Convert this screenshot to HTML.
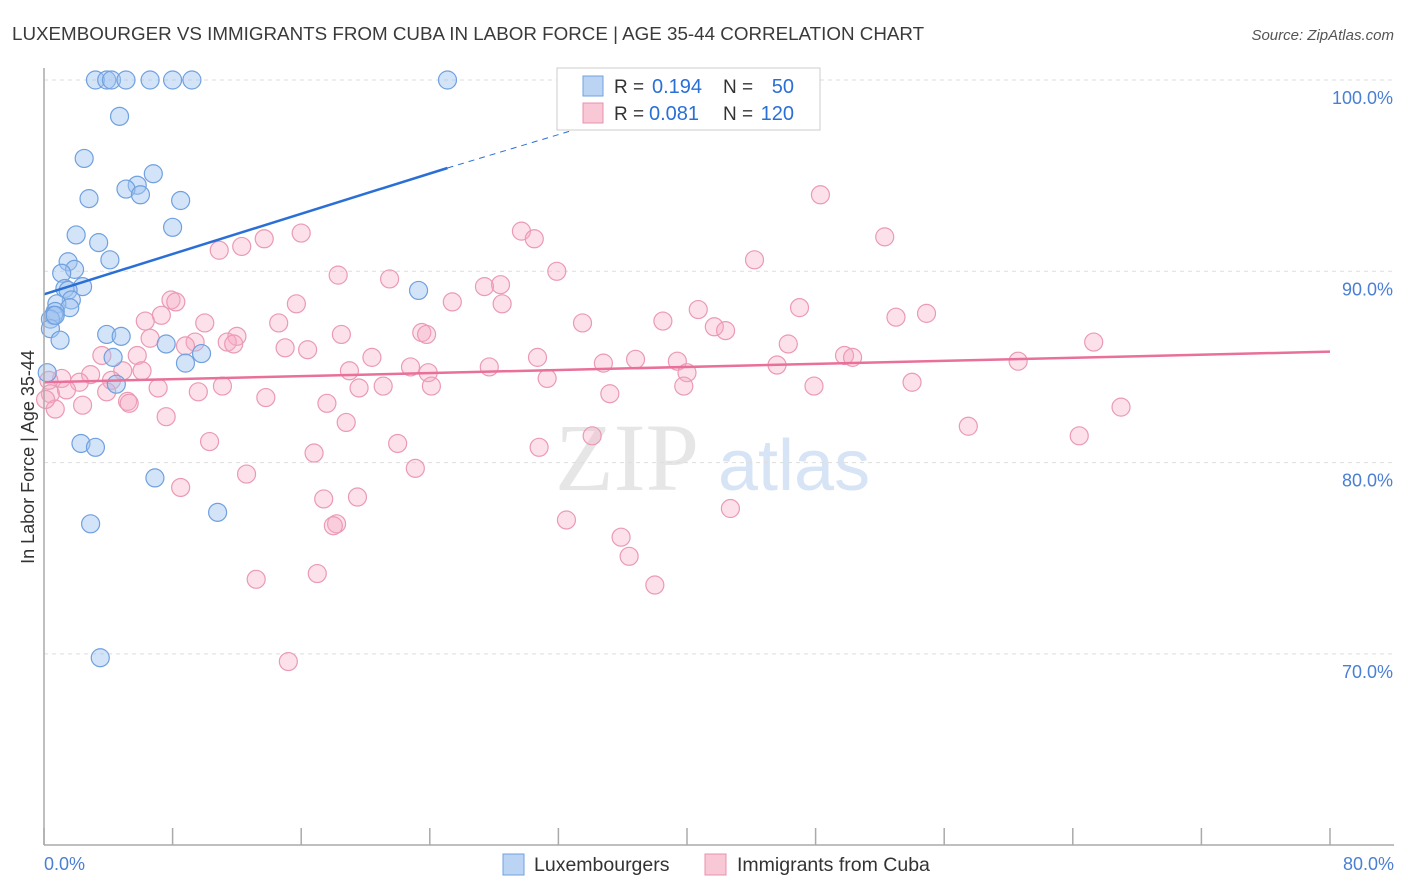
<!DOCTYPE html>
<html><head><meta charset="utf-8"><style>
body{margin:0;background:#fff;font-family:"Liberation Sans",sans-serif}
svg{display:block}
</style></head><body>
<svg id="c" width="1406" height="892">
<text x="12" y="40" font-size="18.8" fill="#3a3a3a">LUXEMBOURGER VS IMMIGRANTS FROM CUBA IN LABOR FORCE | AGE 35-44 CORRELATION CHART</text>
<text x="1394" y="40" font-size="15" fill="#555" font-style="italic" text-anchor="end">Source: ZipAtlas.com</text>
<text x="555" y="490" font-size="96" fill="#e6e6e6" font-family="Liberation Serif,serif">ZIP</text>
<text x="718" y="490" font-size="72" fill="#d6e4f5">atlas</text>
<text transform="translate(34,457) rotate(-90)" font-size="18" fill="#333" text-anchor="middle">In Labor Force | Age 35-44</text>
<g id="grid"></g><g id="pts"></g><g id="lines"></g>
<line x1="44" y1="68" x2="44" y2="845" stroke="#aaa" stroke-width="1.5"/>
<line x1="44" y1="845" x2="1394" y2="845" stroke="#aaa" stroke-width="1.5"/>
<text x="44" y="870" font-size="18" fill="#4a7fd4">0.0%</text>
<text x="1394" y="870" font-size="18" fill="#4a7fd4" text-anchor="end">80.0%</text>
<g>
<rect x="557" y="68" width="263" height="62" fill="#fff" stroke="#ccc"/>
<rect x="583" y="76" width="20" height="20" fill="#bcd4f4" stroke="#6fa0e0"/>
<rect x="583" y="103" width="20" height="20" fill="#f9c8d6" stroke="#e890aa"/>
<text x="614" y="93" font-size="19" fill="#333">R =</text>
<text x="652" y="93" font-size="20" fill="#2a6fd6">0.194</text>
<text x="723" y="93" font-size="19" fill="#333">N =</text>
<text x="794" y="93" font-size="20" fill="#2a6fd6" text-anchor="end">50</text>
<text x="614" y="120" font-size="19" fill="#333">R =</text>
<text x="649" y="120" font-size="20" fill="#2a6fd6">0.081</text>
<text x="723" y="120" font-size="19" fill="#333">N =</text>
<text x="794" y="120" font-size="20" fill="#2a6fd6" text-anchor="end">120</text>
</g>
<g>
<rect x="503" y="854" width="21" height="21" fill="#bcd4f4" stroke="#6fa0e0"/>
<text x="534" y="871" font-size="19.5" fill="#333">Luxembourgers</text>
<rect x="705" y="854" width="21" height="21" fill="#f9c8d6" stroke="#e890aa"/>
<text x="737" y="871" font-size="19.5" fill="#333">Immigrants from Cuba</text>
</g>
</svg>
<script>
const yTicks=[100,90,80,70];
const yTickLabels=["100.0%","90.0%","80.0%","70.0%"];
const xTicks=[0,8,16,24,32,40,48,56,64,72,80];
const blueX=[3.2,3.9,4.2,5.1,6.6,8.0,9.2,25.1,4.7,2.5,6.8,5.8,5.1,6.0,2.8,8.5,8.0,2.0,3.4,4.1,1.5,1.9,1.1,2.4,1.3,1.5,1.7,0.8,1.6,0.7,0.6,0.4,0.4,1.0,23.3,3.9,4.8,7.6,9.8,8.8,4.3,4.5,0.2,2.3,3.2,6.9,10.8,2.9,3.5,0.7];
const blueY=[100,100,100,100,100,100,100,100,98.1,95.9,95.1,94.5,94.3,94.0,93.8,93.7,92.3,91.9,91.5,90.6,90.5,90.1,89.9,89.2,89.1,89.0,88.5,88.3,88.1,87.9,87.7,87.5,87.0,86.4,89.0,86.7,86.6,86.2,85.7,85.2,85.5,84.1,84.7,81.0,80.8,79.2,77.4,76.8,69.8,87.7];
const pinkX=[48.3,52.3,29.7,30.5,16.0,13.7,12.3,10.9,44.2,31.9,18.3,21.5,28.4,27.4,25.4,28.5,15.7,7.9,8.2,40.7,47.0,54.9,53.0,7.3,6.3,10.0,14.6,33.5,38.5,41.7,42.4,23.5,23.8,18.5,12.0,11.4,11.8,65.3,46.3,6.6,9.4,8.8,15.0,16.4,5.8,3.6,20.4,30.7,34.8,36.8,39.4,49.8,50.3,60.6,45.6,22.8,27.7,19.0,23.9,40.0,4.9,6.1,2.9,1.1,0.3,2.2,4.2,31.3,24.1,21.1,11.1,19.6,39.8,47.9,54.0,0.4,1.4,3.9,9.6,7.1,35.2,13.8,5.2,5.3,2.4,0.7,0.1,67.0,17.6,7.6,18.8,57.5,34.1,64.4,10.3,22.0,30.8,16.8,23.1,12.6,8.5,17.4,19.5,42.7,32.5,18.2,18.0,35.9,36.4,17.0,13.2,38.0,15.2];
const pinkY=[94.0,91.8,92.1,91.7,92.0,91.7,91.3,91.1,90.6,90.0,89.8,89.6,89.3,89.2,88.4,88.3,88.3,88.5,88.4,88.0,88.1,87.8,87.6,87.7,87.4,87.3,87.3,87.3,87.4,87.1,86.9,86.8,86.7,86.7,86.6,86.3,86.2,86.3,86.2,86.5,86.3,86.1,86.0,85.9,85.6,85.6,85.5,85.5,85.2,85.4,85.3,85.6,85.5,85.3,85.1,85.0,85.0,84.8,84.7,84.7,84.8,84.8,84.6,84.4,84.3,84.2,84.3,84.4,84.0,84.0,84.0,83.9,84.0,84.0,84.2,83.6,83.8,83.7,83.7,83.9,83.6,83.4,83.2,83.1,83.0,82.8,83.3,82.9,83.1,82.4,82.1,81.9,81.4,81.4,81.1,81.0,80.8,80.5,79.7,79.4,78.7,78.1,78.2,77.6,77.0,76.8,76.7,76.1,75.1,74.2,73.9,73.6,69.6];
const blueTrend=[0,88.8,25.1,95.4,33.8,97.6];
const pinkTrend=[0,84.2,80,85.8];
const X=v=>44+v*16.075, Y=v=>80+(100-v)*19.13;
const ns="http://www.w3.org/2000/svg";
function mk(t,a,p){const e=document.createElementNS(ns,t);for(const k in a)e.setAttribute(k,a[k]);p.appendChild(e);return e;}
const g=document.getElementById('grid');
yTicks.forEach((t,i)=>{
 const l=mk('line',{x1:44,x2:1394,y1:Y(t),y2:Y(t),stroke:'#ddd','stroke-dasharray':'4,4'},g);
 
 
 const tx=mk('text',{x:1393,y:Y(t)+24,'font-size':18,fill:'#4a7fd4','text-anchor':'end'},g);
 tx.textContent=yTickLabels[i];
 
 
});
xTicks.forEach(t=>{
 const l=mk('line',{x1:X(t),x2:X(t),y1:828,y2:845,stroke:'#aaa','stroke-width':1.5},g);
 
 
});
const p=document.getElementById('pts');
pinkX.forEach((x,i)=>{
 const c=mk('circle',{cx:X(x),cy:Y(pinkY[i]),r:9,fill:'rgba(245,170,195,0.35)',stroke:'#eb9ab3','stroke-width':1.2},p);
 
 
});
blueX.forEach((x,i)=>{
 const c=mk('circle',{cx:X(x),cy:Y(blueY[i]),r:9,fill:'rgba(160,195,240,0.45)',stroke:'#6fa0e0','stroke-width':1.2},p);
 
 
});
const L=document.getElementById('lines');
const b1=mk('line',{x1:X(blueTrend[0]),y1:Y(blueTrend[1]),x2:X(blueTrend[2]),y2:Y(blueTrend[3]),stroke:'#2a6fd6','stroke-width':2.5},L);


const b2=mk('line',{x1:X(blueTrend[2]),y1:Y(blueTrend[3]),x2:X(blueTrend[4]),y2:Y(blueTrend[5]),stroke:'#2a6fd6','stroke-width':1,'stroke-dasharray':'6,5'},L);


const pl=mk('line',{x1:X(pinkTrend[0]),y1:Y(pinkTrend[1]),x2:X(pinkTrend[2]),y2:Y(pinkTrend[3]),stroke:'#e8709a','stroke-width':2.5},L);


</script>
</body></html>
